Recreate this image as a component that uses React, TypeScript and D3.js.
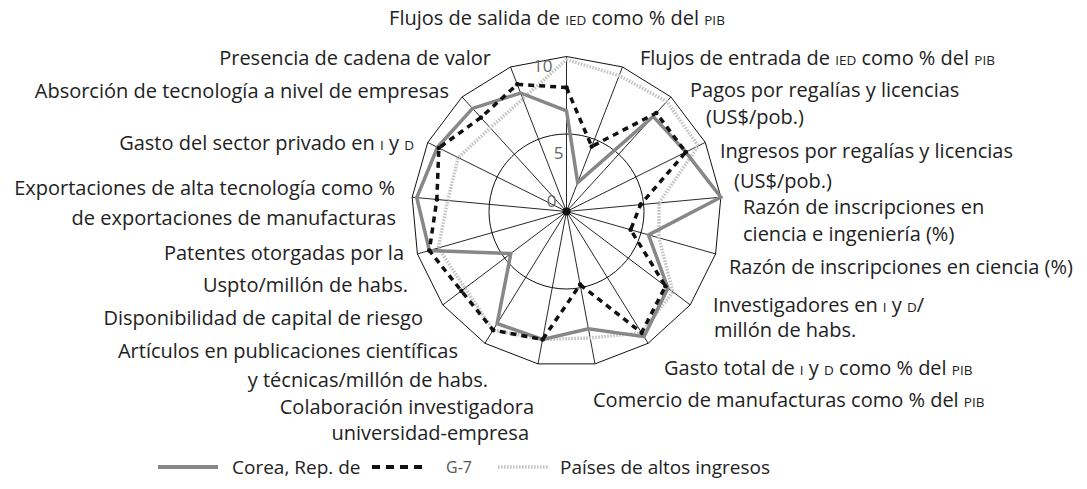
import React from 'react';
import * as d3 from 'd3';

// categories, clockwise from the top. ^...^ marks small caps
const axisLabels = [
  ['Flujos de salida de ^IED^ como % del ^PIB^'],
  ['Flujos de entrada de ^IED^ como % del ^PIB^'],
  ['Pagos por regalías y licencias', '(US$/pob.)'],
  ['Ingresos por regalías y licencias', '(US$/pob.)'],
  ['Razón de inscripciones en', 'ciencia e ingeniería (%)'],
  ['Razón de inscripciones en ciencia (%)'],
  ['Investigadores en ^I^ y ^D^/', 'millón de habs.'],
  ['Gasto total de ^I^ y ^D^ como % del ^PIB^'],
  ['Comercio de manufacturas como % del ^PIB^'],
  ['Colaboración investigadora', 'universidad-empresa'],
  ['Artículos en publicaciones científicas', 'y técnicas/millón de habs.'],
  ['Disponibilidad de capital de riesgo'],
  ['Patentes otorgadas por la', 'Uspto/millón de habs.'],
  ['Exportaciones de alta tecnología como %', 'de exportaciones de manufacturas'],
  ['Gasto del sector privado en ^I^ y ^D^'],
  ['Absorción de tecnología a nivel de empresas'],
  ['Presencia de cadena de valor'],
];

const korea = [6.5, 2.0, 8.3, 8.6, 10.0, 5.5, 8.2, 9.5, 7.7, 8.4, 8.5, 4.5, 9.2, 9.7, 9.3, 9.0, 8.2];
const g7 = [8.0, 4.5, 8.6, 8.6, 4.8, 4.3, 8.0, 9.2, 4.8, 8.4, 9.0, 8.5, 9.2, 8.4, 9.2, 8.2, 8.8];
const highIncome = [9.8, 9.4, 9.6, 9.5, 6.0, 6.2, 8.6, 9.2, 8.3, 8.4, 9.0, 8.2, 8.6, 7.7, 7.8, 7.3, 7.8];

const tickValues = [0, 5, 10];
const seriesNames = ['Corea, Rep. de', 'G-7', 'Países de altos ingresos'];

// where each label's lines sit: [x, baseline]
const labelLayout: { anchor: string; lines: number[][] }[] = [
  { anchor: 'middle', lines: [[557, 25]] },
  { anchor: 'start', lines: [[640, 65]] },
  { anchor: 'start', lines: [[690, 97], [706, 124]] },
  { anchor: 'start', lines: [[720, 158], [734, 188]] },
  { anchor: 'start', lines: [[743, 214], [743, 241]] },
  { anchor: 'start', lines: [[729, 274]] },
  { anchor: 'start', lines: [[713, 312], [714, 337]] },
  { anchor: 'start', lines: [[664, 375]] },
  { anchor: 'start', lines: [[593, 407]] },
  { anchor: 'end', lines: [[534, 414], [529, 440]] },
  { anchor: 'end', lines: [[458, 358], [488, 387]] },
  { anchor: 'end', lines: [[423, 325]] },
  { anchor: 'end', lines: [[404, 260], [408, 292]] },
  { anchor: 'end', lines: [[395, 195], [396, 225]] },
  { anchor: 'end', lines: [[414, 150]] },
  { anchor: 'end', lines: [[449, 98]] },
  { anchor: 'end', lines: [[491, 65]] },
];

const W = 1087;
const H = 489;
const cx = 566.5;
const cy = 211.5;
const R = 155;
const font = '"Open Sans", "Noto Sans", sans-serif';
const labelSize = 20;

const renderRich = (s: string) =>
  s.split('^').map((part, k) =>
    k % 2 === 1 ? (
      <tspan key={k} fontSize={13.5}>{part}</tspan>
    ) : (
      <tspan key={k}>{part}</tspan>
    )
  );

export default function App() {
  const r = d3.scaleLinear().domain([0, 10]).range([0, R]);
  const step = (2 * Math.PI) / axisLabels.length;
  const angle = (i: number) => i * step;

  const radar = d3
    .lineRadial<number>()
    .angle((_, i) => angle(i))
    .radius((d) => r(d))
    .curve(d3.curveLinearClosed);

  const outer = radar(axisLabels.map(() => 10)) as string;

  const series = [
    { name: seriesNames[2], data: highIncome, color: '#c4c4c4', dash: '1.6 1.4', width: 3.5 },
    { name: seriesNames[0], data: korea, color: '#878787', dash: null, width: 3.5 },
    { name: seriesNames[1], data: g7, color: '#111', dash: '6 5', width: 3.5 },
  ];

  // tick label offsets [dx, dy] relative to the value on the top spoke
  const tickOffset: Record<number, number[]> = { 0: [-10, -5], 5: [-3, 25], 10: [-14, 15] };

  return (
    <svg
      width={W}
      height={H}
      style={{ position: 'absolute', left: 0, top: 0, background: '#fff' }}
      fontFamily={font}
    >
      <g transform={`translate(${cx},${cy})`}>
        <path d={outer} fill="none" stroke="#111" strokeWidth={1} />
        <circle r={r(5)} fill="none" stroke="#111" strokeWidth={1} />
        {axisLabels.map((_, i) => {
          const [x, y] = d3.pointRadial(angle(i), r(10));
          return <line key={i} x1={0} y1={0} x2={x} y2={y} stroke="#111" strokeWidth={0.9} />;
        })}
        {series.map((s) => (
          <path
            key={s.name}
            d={radar(s.data) as string}
            fill="none"
            stroke={s.color}
            strokeWidth={s.width}
            strokeDasharray={s.dash || undefined}
            strokeLinejoin="miter"
          />
        ))}
        {g7.map((v, i) => {
          const [x, y] = d3.pointRadial(angle(i), r(v));
          return <circle key={i} cx={x} cy={y} r={2.3} fill="#111" />;
        })}
        <circle r={4} fill="#111" />
        {tickValues.map((t) => (
          <text
            key={t}
            x={tickOffset[t][0]}
            y={-r(t)}
            dy={tickOffset[t][1]}
            textAnchor="end"
            fontSize={17}
            fill="#666"
          >
            {t}
          </text>
        ))}
      </g>

      {axisLabels.map((lines, i) => (
        <g key={i} fontSize={labelSize} fill="#222">
          {lines.map((ln, j) => {
            const [x, y] = labelLayout[i].lines[j];
            return (
              <text key={j} x={x} y={y} textAnchor={labelLayout[i].anchor}>
                {renderRich(ln)}
              </text>
            );
          })}
        </g>
      ))}

      <g fontSize={19} fill="#222">
        <line x1={158} x2={218} y1={467} y2={467} stroke="#878787" strokeWidth={4} />
        <text x={232} y={474}>{seriesNames[0]}</text>
        <line x1={372} x2={428} y1={467} y2={467} stroke="#111" strokeWidth={4} strokeDasharray="8 6" />
        <text x={446} y={473} fontSize={16} fill="#555">{seriesNames[1]}</text>
        <line x1={498} x2={548} y1={467} y2={467} stroke="#c4c4c4" strokeWidth={3.5} strokeDasharray="1.6 1.4" />
        <text x={560} y={474}>{seriesNames[2]}</text>
      </g>
    </svg>
  );
}
